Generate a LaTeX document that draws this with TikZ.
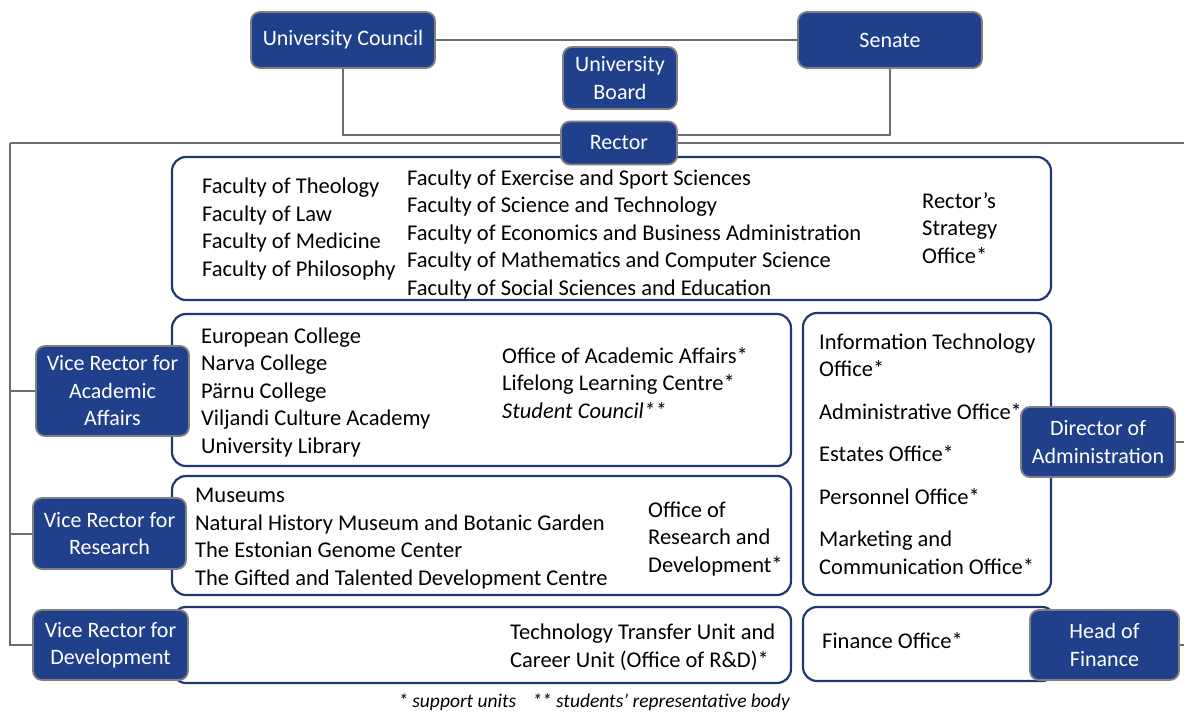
\documentclass[tikz,border=0pt]{standalone}
\usepackage{fontspec}
\setmainfont{Carlito}
\usepackage{tikz}

\definecolor{headblue}{HTML}{21408C}
\definecolor{framenavy}{HTML}{1F3A70}
\definecolor{linegray}{HTML}{6E6E6E}

\begin{document}
\begin{tikzpicture}[x=1pt,y=1pt]
		% Styles for the governing bodies and the unit boxes
		\tikzset{head/.style={draw=gray, line width=1.8pt, fill=headblue, text=white, rounded corners=9pt, align=center, inner sep=0pt, font=\fontsize{22}{27.5}\selectfont}}
		\tikzset{unitbox/.style={draw=framenavy, line width=2.2pt, fill=white, rounded corners=14pt, inner sep=0pt}}
		\tikzset{unittext/.style={anchor=base west, align=left, inner sep=0pt, font=\fontsize{22.5}{27.5}\selectfont}}
		\tikzset{link/.style={draw=linegray, line width=2pt}}
		
		\useasboundingbox (0,0) rectangle (1184,-713);
		
		% Draw the unit boxes
		\node[unitbox, minimum width=879, minimum height=143] (facbox) at (611.5,-228.5) {};
		\node[unitbox, minimum width=619, minimum height=152] (acbox) at (481.5,-390) {};
		\node[unitbox, minimum width=619, minimum height=119] (resbox) at (481.5,-535.5) {};
		\node[unitbox, minimum width=619, minimum height=76] (devbox) at (481.5,-645) {};
		\node[unitbox, minimum width=248, minimum height=282] (admbox) at (927,-454) {};
		\node[unitbox, minimum width=253, minimum height=74] (finbox) at (929.5,-644) {};
		
		% Texts inside the unit boxes (placed by the baseline of their last line)
		\node[unittext] (fac1) at (202,-276) {Faculty of Theology\\Faculty of Law\\Faculty of Medicine\\Faculty of Philosophy};
		\node[unittext] (fac2) at (407,-295) {Faculty of Exercise and Sport Sciences\\Faculty of Science and Technology\\Faculty of Economics and Business Administration\\Faculty of Mathematics and Computer Science\\Faculty of Social Sciences and Education};
		\node[unittext] (strat) at (922,-263) {Rector’s\\Strategy\\Office*};
		\node[unittext] (colleges) at (201,-453) {European College\\Narva College\\Pärnu College\\Viljandi Culture Academy\\University Library};
		\node[unittext] (acoffices) at (502,-418) {Office of Academic Affairs*\\Lifelong Learning Centre*\\\textit{Student Council**}};
		\node[unittext] (museums) at (195,-585) {Museums\\Natural History Museum and Botanic Garden\\The Estonian Genome Center\\The Gifted and Talented Development Centre};
		\node[unittext] (rdoffice) at (648,-572) {Office of\\Research and\\Development*};
		\node[unittext] (ttu) at (510,-667) {Technology Transfer Unit and\\Career Unit (Office of R\&D)*};
		\node[unittext] (admoffices) at (819,-574) {Information Technology\\Office*\\[15pt]Administrative Office*\\[15pt]Estates Office*\\[15pt]Personnel Office*\\[15pt]Marketing and\\Communication Office*};
		\node[unittext] (finoffice) at (822,-648) {Finance Office*};
		
		% Draw the governing bodies
		\node[head, minimum width=184, minimum height=56] (council) at (343,-40) {University Council};
		\node[head, minimum width=184, minimum height=56] (senate) at (890,-40) {Senate};
		\node[head, minimum width=114, minimum height=62] (board) at (620,-78) {University\\Board};
		\node[head, minimum width=116, minimum height=43] (rector) at (619,-143) {Rector};
		
		% Vice rectors and heads
		\node[head, minimum width=153, minimum height=90] (acvr) at (112.5,-391) {Vice Rector for\\Academic\\Affairs};
		\node[head, minimum width=153, minimum height=71] (resvr) at (109.5,-533.5) {Vice Rector for\\Research};
		\node[head, minimum width=155, minimum height=70] (devvr) at (110.5,-645) {Vice Rector for\\Development};
		\node[head, minimum width=154, minimum height=70] (director) at (1098,-442) {Director of\\Administration};
		\node[head, minimum width=149, minimum height=70] (finhead) at (1104.5,-645) {Head of\\Finance};
		
		% Trunk coordinates at the page edges
		\coordinate (ltrunk) at (10,-143);
		\coordinate (rtrunk) at (1184,-143);
		
		% Connect the bodies
		\draw[link] (council.east) -- (senate.west);
		\draw[link] (council.south) |- ([yshift=8]rector.west);
		\draw[link] (senate.south) |- ([yshift=8]rector.east);
		\draw[link] (rector.west) -- (ltrunk);
		\draw[link] (rector.east) -- (rtrunk);
		\draw[link] (ltrunk) |- (devvr.west);
		\draw[link] (ltrunk |- acvr) -- (acvr.west);
		\draw[link] (ltrunk |- resvr) -- (resvr.west);
		\draw[link] (director.east) -- (director.east -| rtrunk);
		\draw[link] (finhead.east) -- (finhead.east -| rtrunk);
		
		% Footnote
		\node[inner sep=0pt, font=\fontsize{19.5}{22}\selectfont\itshape] (note) at (594,-702) {* support units\hspace{16pt}** students’ representative body};
	\end{tikzpicture}
\end{document}
